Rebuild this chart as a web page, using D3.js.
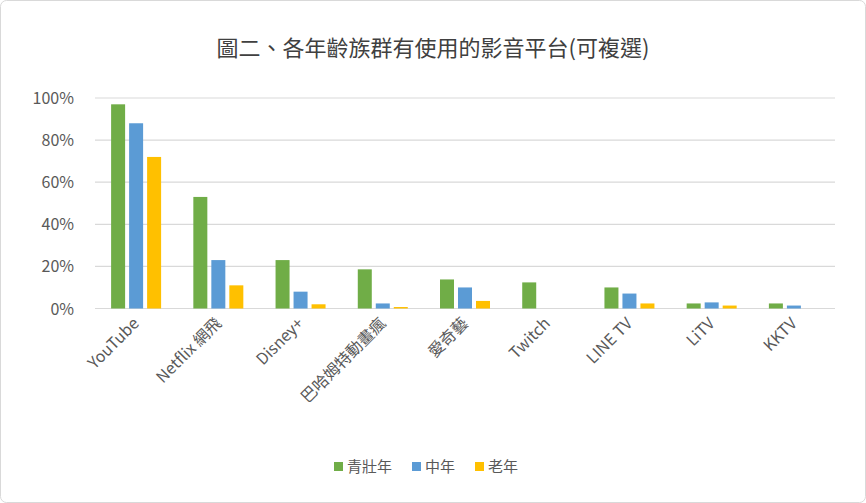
<!DOCTYPE html>
<html><head><meta charset="utf-8">
<script src="https://cdn.jsdelivr.net/npm/d3@7"></script>
<style>body{margin:0;background:#fff}</style>
</head><body>
<script>
const width = 866, height = 503;
const font = "'Noto Sans CJK TC', 'Noto Sans', sans-serif";
const categories = ["YouTube", "Netflix 網飛", "Disney+", "巴哈姆特動畫瘋", "愛奇藝", "Twitch", "LINE TV", "LiTV", "KKTV"];
const seriesNames = ["青壯年", "中年", "老年"];
const colors = ["#70ad47", "#5b9bd5", "#ffc000"];
const youngValues = [97, 53, 23, 18.6, 13.8, 12.4, 10, 2.4, 2.4];
const midValues = [88, 23, 8, 2.4, 10, 0, 7.1, 2.9, 1.4];
const oldValues = [72, 11, 2, 0.7, 3.6, 0, 2.4, 1.4, 0];
const yTicks = [0, 20, 40, 60, 80, 100];
const series = [youngValues, midValues, oldValues];

const svg = d3.select("body").append("svg").attr("width", width).attr("height", height);
svg.append("rect").attr("x", 0.5).attr("y", 0.5).attr("width", width - 1).attr("height", height - 1)
  .attr("rx", 6).attr("fill", "white").attr("stroke", "#d9d9d9");

const plotLeft = 95, plotRight = 835, plotTop = 98, plotBottom = 308.5;
const x = d3.scaleBand().domain(categories).range([plotLeft, plotRight]);
const y = d3.scaleLinear().domain([0, 100]).range([plotBottom, plotTop]);
const bw = 14, gap = 4;

svg.append("text").attr("x", width / 2).attr("y", 56).attr("text-anchor", "middle")
  .attr("font-family", font).attr("font-size", "22px").attr("fill", "#404040")
  .text("圖二、各年齡族群有使用的影音平台(可複選)");

svg.selectAll(".grid").data(yTicks).join("line")
  .attr("x1", plotLeft).attr("x2", plotRight).attr("y1", d => y(d)).attr("y2", d => y(d))
  .attr("stroke", "#d9d9d9").attr("stroke-width", 1.2);

svg.selectAll(".ytick").data(yTicks).join("text")
  .attr("x", 74).attr("y", d => y(d) + 6).attr("text-anchor", "end")
  .attr("font-family", font).attr("font-size", "16px").attr("fill", "#595959")
  .text(d => d + "%");

series.forEach((vals, s) => {
  svg.selectAll(".bar" + s).data(vals).join("rect")
    .attr("x", (d, i) => x(categories[i]) + x.bandwidth() / 2 - 1.5 * bw - gap + s * (bw + gap))
    .attr("y", d => y(d)).attr("width", bw).attr("height", d => plotBottom - y(d))
    .attr("fill", colors[s]);
});

svg.selectAll(".xlab").data(categories).join("text")
  .attr("transform", d => `translate(${x(d) + x.bandwidth() / 2 + 4},${plotBottom + 16}) rotate(-45)`)
  .attr("text-anchor", "end").attr("font-family", font).attr("font-size", "16px").attr("fill", "#595959")
  .text(d => d);

const lg = svg.append("g").attr("transform", "translate(334,467)");
let lx = 0;
seriesNames.forEach((n, i) => {
  lg.append("rect").attr("x", lx).attr("y", -5).attr("width", 9).attr("height", 9).attr("fill", colors[i]);
  lg.append("text").attr("x", lx + 13).attr("y", 5).attr("font-family", font).attr("font-size", "15px")
    .attr("fill", "#595959").text(n);
  lx += n.length * 15 + 33;
});
</script>
</body></html>
